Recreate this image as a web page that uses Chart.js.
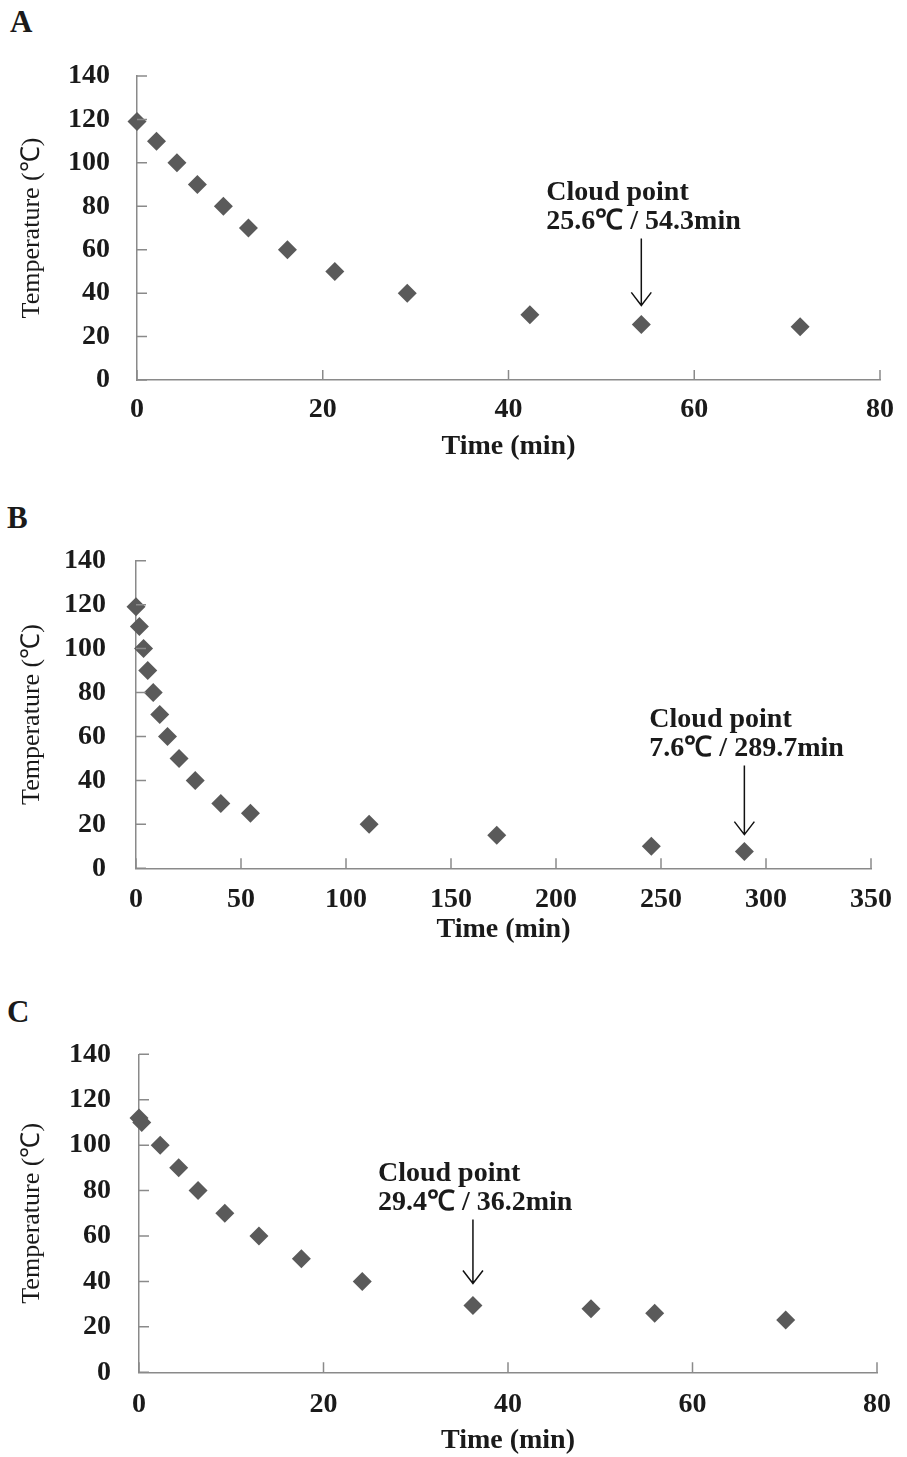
<!DOCTYPE html>
<html>
<head>
<meta charset="utf-8">
<title>Cooling curves</title>
<script src="https://cdn.jsdelivr.net/npm/chart.js@4.4.1/dist/chart.umd.min.js"></script>
<style>
  body { margin: 0; background: #fff; }
  #page { position: relative; width: 907px; height: 1457px; overflow: hidden; }
  canvas { position: absolute; left: 0; }
  .letter { position: absolute; font: bold 31px 'Liberation Serif', 'Times New Roman', serif; line-height: 1; color: #1a1a1a; }
</style>
</head>
<body>
<div id="page">
  <div class="letter" style="left:10px; top:6px;">A</div>
  <div class="letter" style="left:7px; top:502px;">B</div>
  <div class="letter" style="left:7px; top:996px;">C</div>
  <canvas id="chartA" width="907" height="480" style="top:0px;"></canvas>
  <canvas id="chartB" width="907" height="470" style="top:490px;"></canvas>
  <canvas id="chartC" width="907" height="467" style="top:990px;"></canvas>
</div>
<script>
// Panel A
const timeA = [0, 2.1, 4.3, 6.5, 9.3, 12.0, 16.2, 21.3, 29.1, 42.3, 54.3, 71.4];
const tempA = [119, 110, 100, 90, 80, 70, 60, 50, 40, 30, 25.6, 24.5];
const cloudA = ['Cloud point', '25.6℃ / 54.3min'];

// Panel B
const timeB = [0, 1.6, 3.6, 5.6, 8.2, 11.3, 15.0, 20.5, 28.2, 40.4, 54.5, 111, 171.8, 245.4, 289.7];
const tempB = [119, 110, 100, 90, 80, 70, 60, 50, 40, 29.5, 25, 20, 15, 10, 7.6];
const cloudB = ['Cloud point', '7.6℃ / 289.7min'];

// Panel C
const timeC = [0, 0.3, 2.3, 4.3, 6.4, 9.3, 13.0, 17.6, 24.2, 36.2, 49.0, 55.9, 70.1];
const tempC = [112, 110, 100, 90, 80, 70, 60, 50, 40, 29.4, 28, 26, 23];
const cloudC = ['Cloud point', '29.4℃ / 36.2min'];

const SERIF = "'Liberation Serif', 'Times New Roman', serif";
const TEXT = '#1a1a1a';
const AXIS = '#8a8a8a';

// inward tick marks + cloud point arrow and label
const decor = {
    id: 'decor',
    afterDraw(chart, args, opts) {
        const { ctx, chartArea } = chart;
        const x = chart.scales.x;
        const y = chart.scales.y;

        ctx.save();
        ctx.strokeStyle = AXIS;
        ctx.lineWidth = 1.5;
        ctx.beginPath();
        y.ticks.forEach(t => {
            const py = y.getPixelForValue(t.value);
            ctx.moveTo(chartArea.left, py);
            ctx.lineTo(chartArea.left + 10, py);
        });
        x.ticks.forEach(t => {
            const px = x.getPixelForValue(t.value);
            ctx.moveTo(px, chartArea.bottom);
            ctx.lineTo(px, chartArea.bottom - 10);
        });
        ctx.stroke();

        // arrow pointing at the cloud point
        const data = chart.data.datasets[0].data[opts.index];
        const px = x.getPixelForValue(data.x);
        const py = y.getPixelForValue(data.y);
        const tip = py - opts.tipGap;
        ctx.strokeStyle = '#111';
        ctx.lineWidth = 1.5;
        ctx.beginPath();
        ctx.moveTo(px, py - 86);
        ctx.lineTo(px, tip);
        ctx.moveTo(px - 10, tip - 13);
        ctx.lineTo(px, tip);
        ctx.lineTo(px + 10, tip - 13);
        ctx.stroke();

        ctx.fillStyle = TEXT;
        ctx.font = 'bold 28px ' + SERIF;
        ctx.textAlign = 'left';
        ctx.textBaseline = 'middle';
        ctx.fillText(opts.text[0], px - 95, py - 132);
        ctx.fillText(opts.text[1], px - 95, py - 103);
        ctx.restore();
    }
};

function makeChart(id, times, temps, xMax, xStep, cloudText, box) {
    const points = times.map((t, i) => ({ x: t, y: temps[i] }));
    return new Chart(document.getElementById(id), {
        type: 'scatter',
        data: {
            datasets: [{
                data: points,
                pointStyle: 'rectRot',
                pointRadius: 9.5,
                pointHoverRadius: 9.5,
                backgroundColor: '#5a5a5a',
                borderWidth: 0,
                showLine: false,
                clip: false
            }]
        },
        options: {
            responsive: false,
            animation: false,
            events: [],
            layout: {
                padding: { left: 0, top: box.top, right: box.right, bottom: box.bottom }
            },
            plugins: {
                legend: { display: false },
                tooltip: { enabled: false },
                decor: { index: temps.length - 1 - box.cloudFromEnd, text: cloudText, tipGap: box.tipGap }
            },
            scales: {
                x: {
                    type: 'linear',
                    min: 0,
                    max: xMax,
                    afterFit: s => { s.height = box.xAxisH; },
                    grid: { display: false, drawTicks: false },
                    border: { display: true, color: AXIS, width: 1.5 },
                    ticks: {
                        stepSize: xStep,
                        padding: box.xTickPad,
                        color: TEXT,
                        font: { family: SERIF, size: 28, weight: 'bold' }
                    },
                    title: {
                        display: true,
                        text: 'Time (min)',
                        color: TEXT,
                        padding: 0,
                        font: { family: SERIF, size: 28, weight: 'bold', lineHeight: 1 }
                    }
                },
                y: {
                    min: 0,
                    max: 140,
                    afterFit: s => { s.width = box.left; },
                    grid: { display: false, drawTicks: false },
                    border: { display: true, color: AXIS, width: 1.5 },
                    ticks: {
                        stepSize: 20,
                        padding: box.yTickPad,
                        color: TEXT,
                        font: { family: SERIF, size: 28, weight: 'bold' }
                    },
                    title: {
                        display: true,
                        text: 'Temperature (℃)',
                        color: TEXT,
                        padding: { top: 17, bottom: 0 },
                        font: { family: SERIF, size: 26, weight: 'normal' }
                    }
                }
            }
        },
        plugins: [decor]
    });
}

makeChart('chartA', timeA, tempA, 80, 20, cloudA,
    { left: 137, right: 24, top: 76, bottom: 19.5, xAxisH: 80.5, xTickPad: 13, yTickPad: 27, tipGap: 19, cloudFromEnd: 1 });
makeChart('chartB', timeB, tempB, 350, 50, cloudB,
    { left: 136, right: 26, top: 70.7, bottom: 16.5, xAxisH: 75.2, xTickPad: 15, yTickPad: 30, tipGap: 17, cloudFromEnd: 0 });
makeChart('chartC', timeC, tempC, 80, 20, cloudC,
    { left: 139, right: 29, top: 64.3, bottom: 1.8, xAxisH: 82.9, xTickPad: 16, yTickPad: 28, tipGap: 22, cloudFromEnd: 3 });
</script>
</body>
</html>
